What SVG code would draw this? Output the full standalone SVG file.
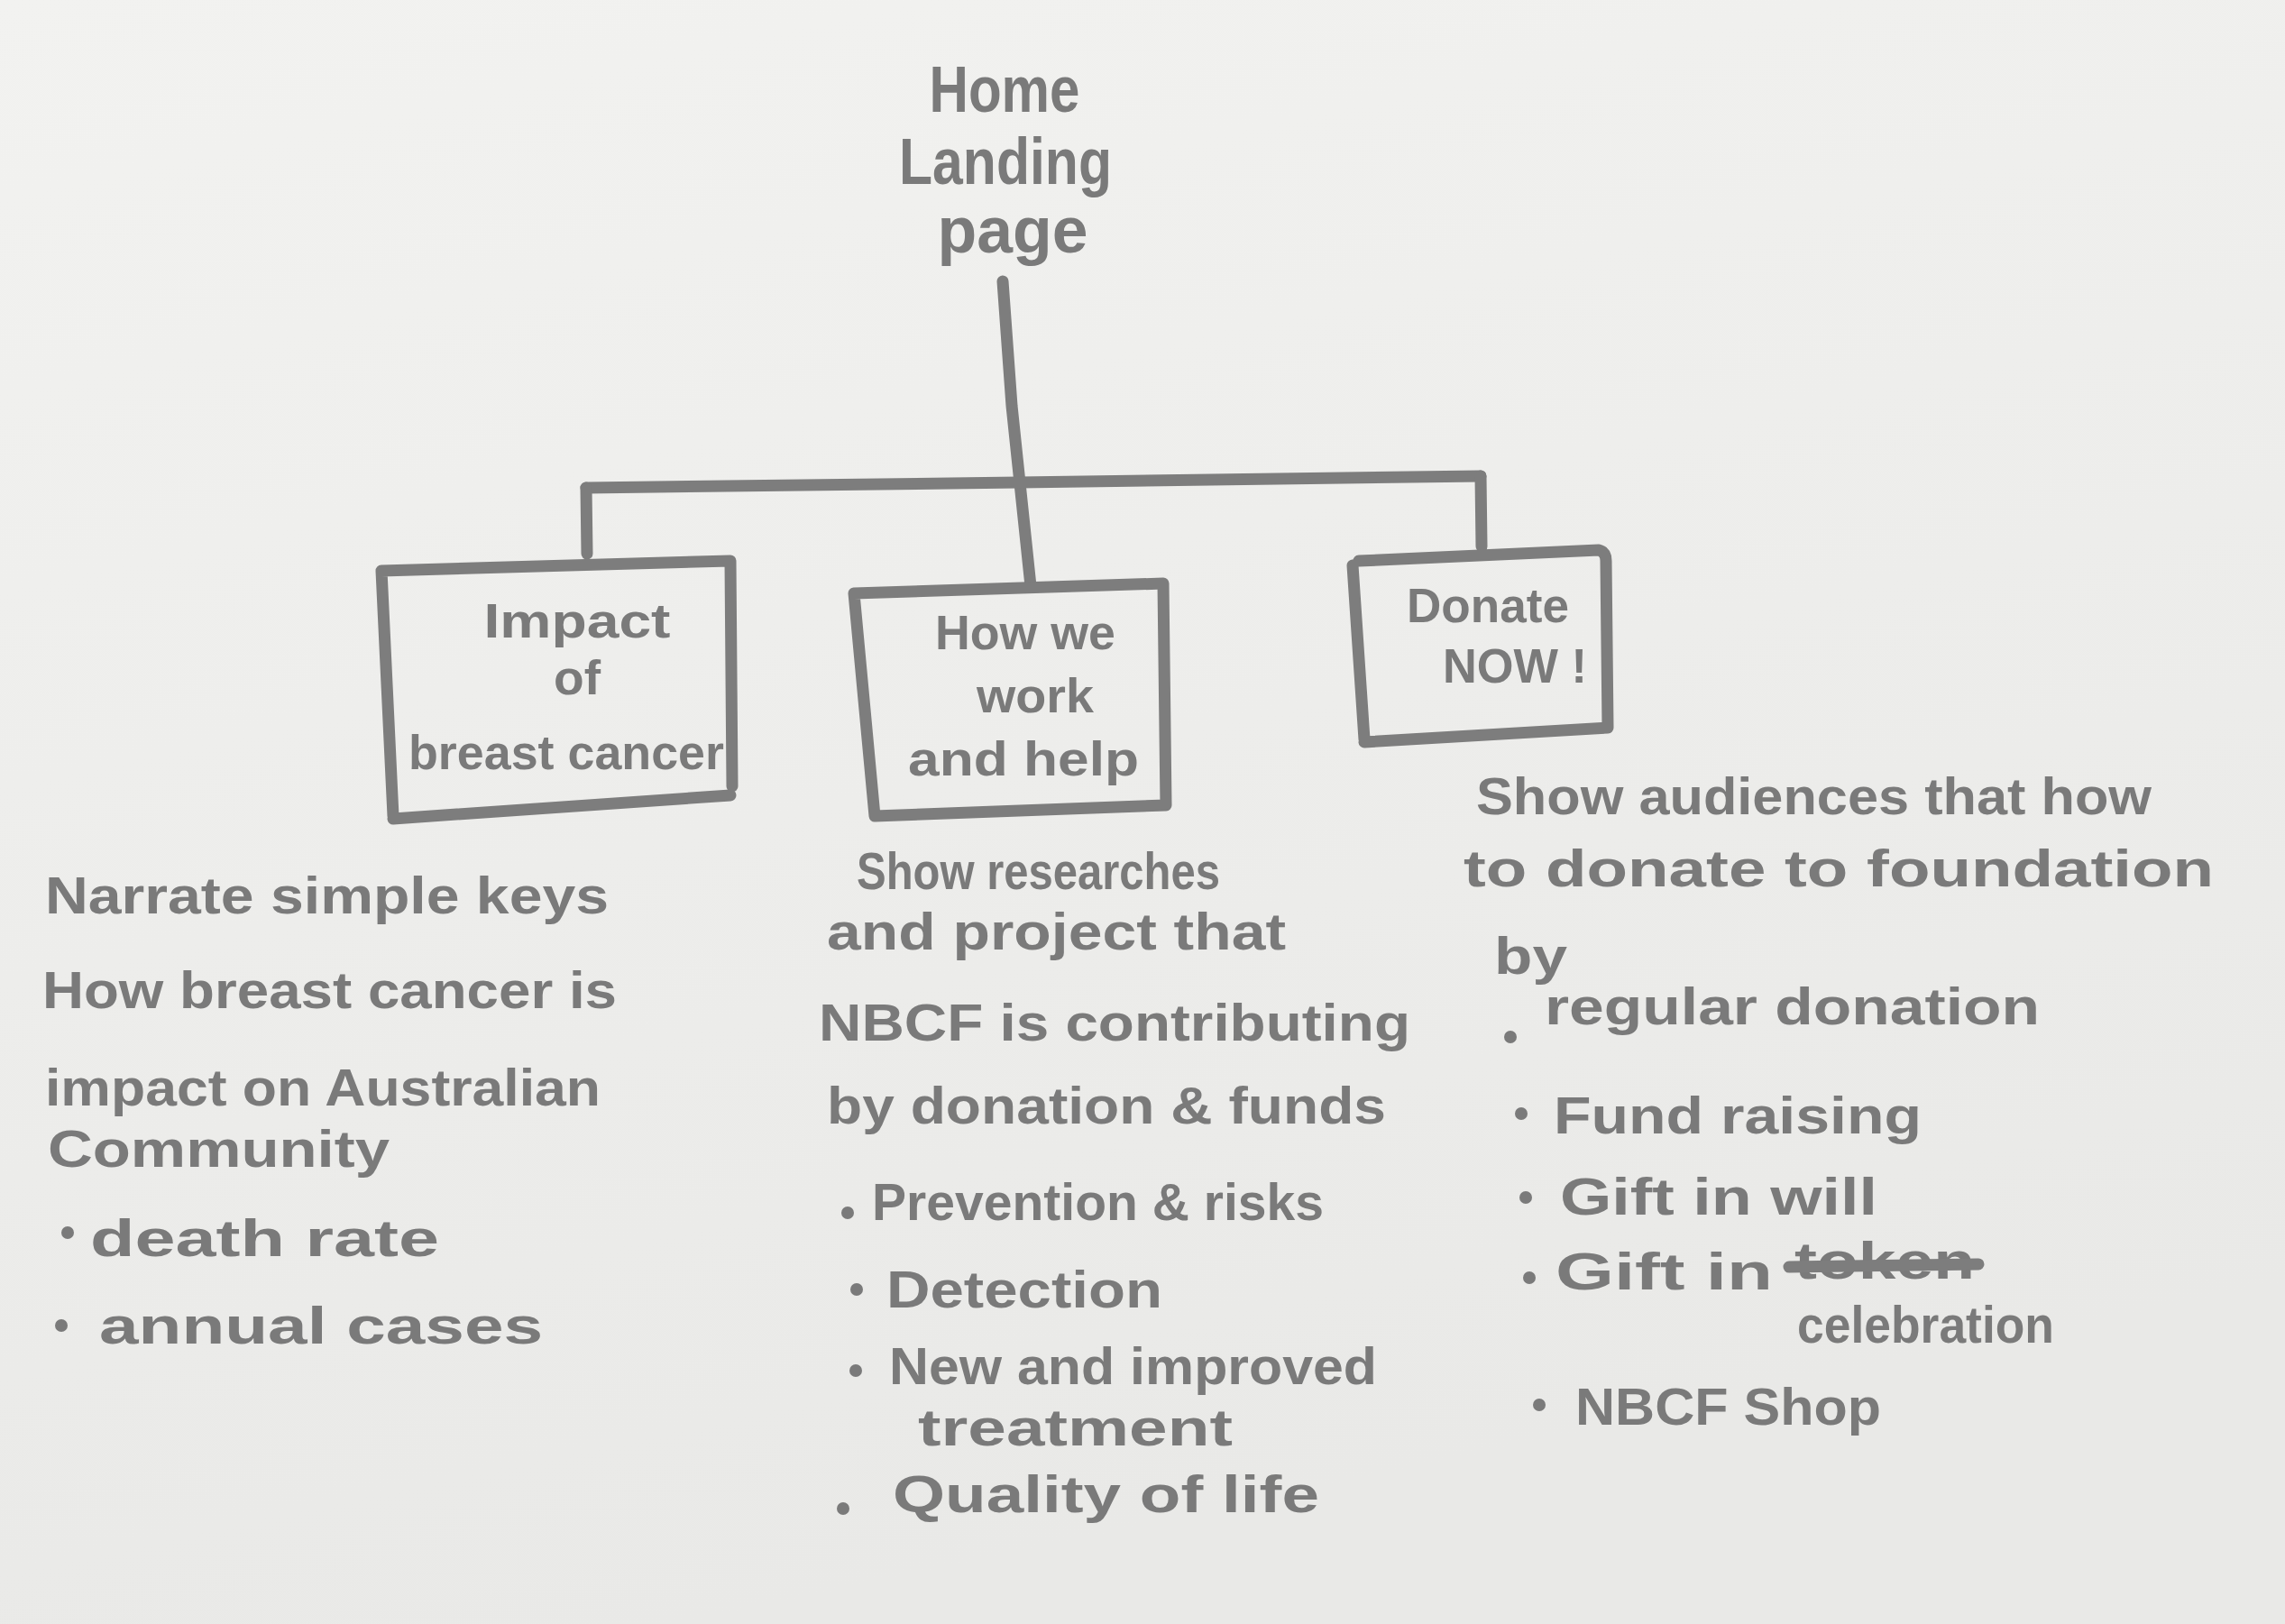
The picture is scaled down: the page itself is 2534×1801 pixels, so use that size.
<svg xmlns="http://www.w3.org/2000/svg" width="2534" height="1801" viewBox="0 0 2534 1801">
<defs>
<linearGradient id="bg" x1="0" y1="0" x2="0.3" y2="1">
<stop offset="0" stop-color="#f2f2f0"/>
<stop offset="1" stop-color="#e9e9e7"/>
</linearGradient>
<style>
.ink{fill:none;stroke:#7d7d7d;stroke-width:13;stroke-linecap:round;stroke-linejoin:round}
.t{font-family:"Liberation Sans",Arial,sans-serif;font-weight:bold;fill:#7a7a7a;font-size:58px}
.tt{font-family:"Liberation Sans",Arial,sans-serif;font-weight:bold;fill:#7a7a7a;font-size:72px;text-anchor:middle}
.bl{font-family:"Liberation Sans",Arial,sans-serif;font-weight:bold;fill:#7a7a7a;font-size:54px;text-anchor:middle}
.dot{fill:#7a7a7a}
</style>
</defs>
<rect width="2534" height="1801" fill="url(#bg)"/>

<g id="home">
<text class="tt" x="1114" y="124" textLength="167" lengthAdjust="spacingAndGlyphs">Home</text>
<text class="tt" x="1115" y="204" textLength="236" lengthAdjust="spacingAndGlyphs">Landing</text>
<text class="tt" x="1123" y="280" textLength="167" lengthAdjust="spacingAndGlyphs">page</text>
</g>

<g id="connectors">
<path class="ink" d="M1112 312 L1122 450 L1143 650"/>
<path class="ink" d="M650 541 L1130 535 L1642 528"/>
<path class="ink" d="M650 541 L651 614"/>
<path class="ink" d="M1642 528 L1643 606"/>
</g>

<g id="impact">
<path class="ink" d="M423 633 L810 622 L812 872 M810 882 L436 908 M423 633 L436 905"/>
<text class="bl" x="640" y="707" textLength="207" lengthAdjust="spacingAndGlyphs">Impact</text>
<text class="bl" x="640" y="770" textLength="52" lengthAdjust="spacingAndGlyphs">of</text>
<text class="bl" x="628" y="853" textLength="350" lengthAdjust="spacingAndGlyphs">breast cancer</text>
</g>

<g id="howwework">
<path class="ink" d="M947 658 L1290 647 L1293 893 L970 905 Z"/>
<text class="bl" x="1137" y="720" textLength="200" lengthAdjust="spacingAndGlyphs">How we</text>
<text class="bl" x="1148" y="790" textLength="130" lengthAdjust="spacingAndGlyphs">work</text>
<text class="bl" x="1135" y="860" textLength="256" lengthAdjust="spacingAndGlyphs">and help</text>
</g>

<g id="donate">
<path class="ink" d="M1507 622 L1773 610 Q1781 612 1781 622 L1783 807 L1513 823 M1500 627 L1513 820"/>
<text class="bl" x="1650" y="690" textLength="180" lengthAdjust="spacingAndGlyphs">Donate</text>
<text class="bl" x="1680" y="757" textLength="160" lengthAdjust="spacingAndGlyphs">NOW !</text>
</g>

<g id="impact-notes">
<text class="t" x="50" y="1013" textLength="625" lengthAdjust="spacingAndGlyphs">Narrate simple keys</text>
<text class="t" x="47" y="1118" textLength="637" lengthAdjust="spacingAndGlyphs">How breast cancer is</text>
<text class="t" x="50" y="1226" textLength="616" lengthAdjust="spacingAndGlyphs">impact on Australian</text>
<text class="t" x="53" y="1294" font-size="54" textLength="379" lengthAdjust="spacingAndGlyphs">Community</text>
<circle class="dot" cx="75" cy="1367" r="7"/>
<text class="t" x="100" y="1393" textLength="387" lengthAdjust="spacingAndGlyphs">death rate</text>
<circle class="dot" cx="68" cy="1470" r="7"/>
<text class="t" x="110" y="1490" textLength="492" lengthAdjust="spacingAndGlyphs">annual cases</text>
</g>

<g id="work-notes">
<text class="t" x="950" y="986" textLength="403" lengthAdjust="spacingAndGlyphs">Show researches</text>
<text class="t" x="917" y="1053" textLength="509" lengthAdjust="spacingAndGlyphs">and project that</text>
<text class="t" x="908" y="1154" textLength="656" lengthAdjust="spacingAndGlyphs">NBCF is contributing</text>
<text class="t" x="917" y="1246" textLength="620" lengthAdjust="spacingAndGlyphs">by donation &amp; funds</text>
<circle class="dot" cx="940" cy="1345" r="7"/>
<text class="t" x="967" y="1353" textLength="501" lengthAdjust="spacingAndGlyphs">Prevention &amp; risks</text>
<circle class="dot" cx="950" cy="1430" r="7"/>
<text class="t" x="983" y="1450" textLength="306" lengthAdjust="spacingAndGlyphs">Detection</text>
<circle class="dot" cx="949" cy="1520" r="7"/>
<text class="t" x="986" y="1535" textLength="541" lengthAdjust="spacingAndGlyphs">New and improved</text>
<text class="t" x="1018" y="1603" textLength="349" lengthAdjust="spacingAndGlyphs">treatment</text>
<circle class="dot" cx="935" cy="1673" r="7"/>
<text class="t" x="990" y="1677" font-size="62" textLength="473" lengthAdjust="spacingAndGlyphs">Quality of life</text>
</g>

<g id="donate-notes">
<text class="t" x="1637" y="903" textLength="749" lengthAdjust="spacingAndGlyphs">Show audiences that how</text>
<text class="t" x="1623" y="983" textLength="832" lengthAdjust="spacingAndGlyphs">to donate to foundation</text>
<text class="t" x="1657" y="1080" textLength="81" lengthAdjust="spacingAndGlyphs">by</text>
<circle class="dot" cx="1675" cy="1150" r="7"/>
<text class="t" x="1713" y="1136" textLength="549" lengthAdjust="spacingAndGlyphs">regular donation</text>
<circle class="dot" cx="1687" cy="1235" r="7"/>
<text class="t" x="1723" y="1257" textLength="408" lengthAdjust="spacingAndGlyphs">Fund raising</text>
<circle class="dot" cx="1692" cy="1328" r="7"/>
<text class="t" x="1730" y="1347" textLength="352" lengthAdjust="spacingAndGlyphs">Gift in will</text>
<circle class="dot" cx="1696" cy="1417" r="7"/>
<text class="t" x="1725" y="1430" textLength="241" lengthAdjust="spacingAndGlyphs">Gift in</text>
<text class="t" x="1990" y="1418" font-size="40" textLength="200" lengthAdjust="spacingAndGlyphs">token</text>
<path class="ink" d="M1984 1405 L2194 1402"/>
<text class="t" x="1993" y="1489" font-size="54" textLength="285" lengthAdjust="spacingAndGlyphs">celebration</text>
<circle class="dot" cx="1707" cy="1558" r="7"/>
<text class="t" x="1747" y="1580" textLength="339" lengthAdjust="spacingAndGlyphs">NBCF Shop</text>
</g>
</svg>
